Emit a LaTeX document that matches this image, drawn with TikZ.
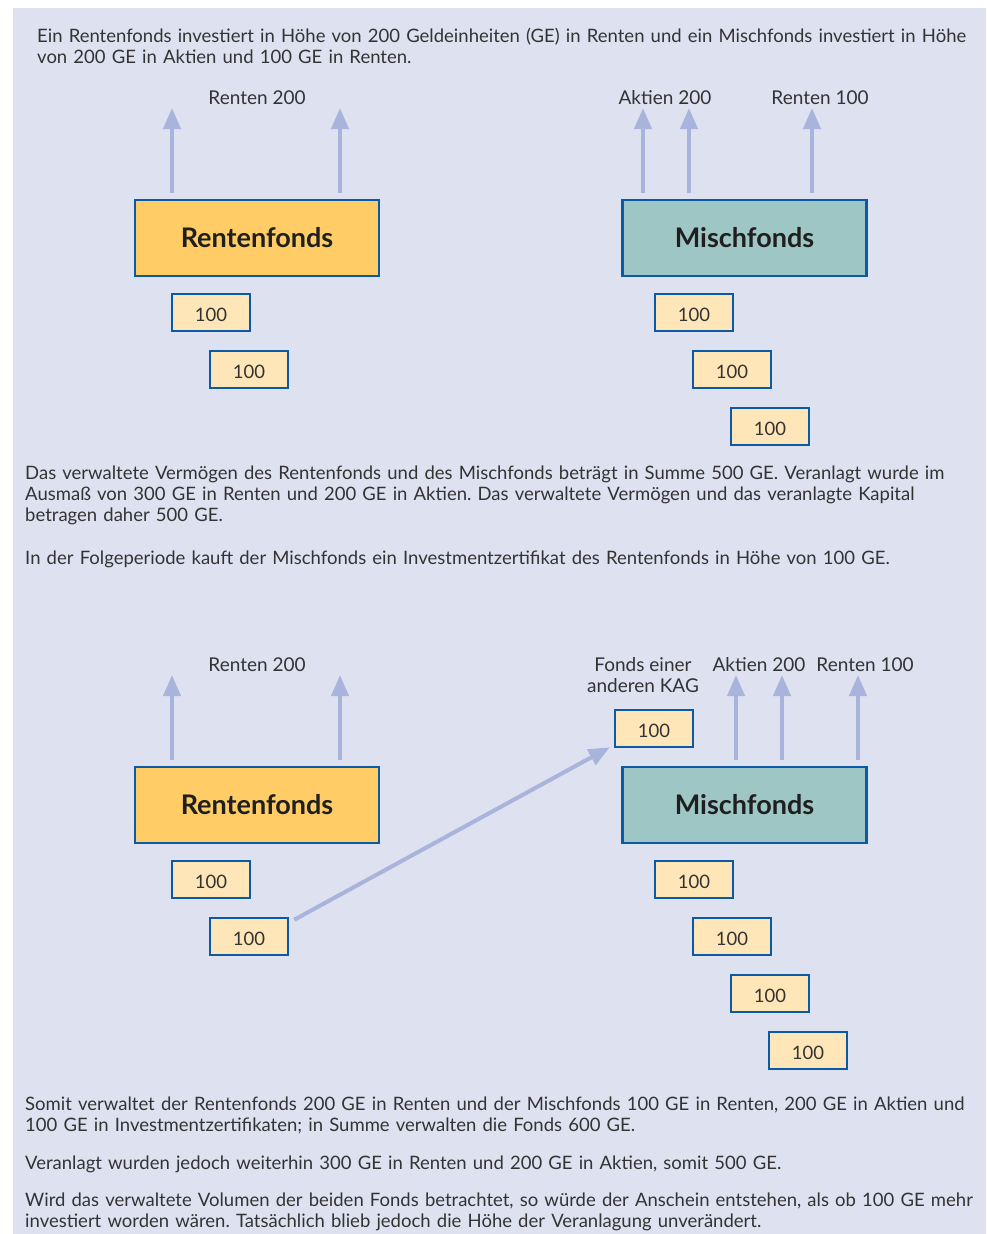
\documentclass[tikz,border=0pt]{standalone}
\usepackage{fontspec}
\setmainfont{Lato}
\usetikzlibrary{arrows.meta}
\definecolor{bg}{HTML}{DEE1F0}
\definecolor{bordblue}{HTML}{0A5AA5}
\definecolor{rentfill}{HTML}{FFCC66}
\definecolor{mischfill}{HTML}{9EC6C4}
\definecolor{smallfill}{HTML}{FFE6B8}
\definecolor{arrcol}{HTML}{A8B4DC}
\definecolor{txt}{HTML}{333333}
\frenchspacing
\begin{document}
\begin{tikzpicture}[x=1pt,y=-1pt,
  fondsbox/.style={draw=bordblue,line width=2.5pt,minimum width=244pt,minimum height=76pt,inner sep=0pt,font=\fontsize{27}{30}\selectfont\bfseries,text=black!88},
  rent/.style={fondsbox,fill=rentfill},
  misch/.style={fondsbox,fill=mischfill},
  small/.style={draw=bordblue,line width=2.5pt,fill=smallfill,minimum width=78pt,minimum height=37pt,inner sep=0pt,text height=17pt,text depth=0pt,font=\fontsize{18.5}{20}\selectfont,text=txt},
  lab/.style={font=\fontsize{19}{21}\selectfont,text=txt,align=center,inner sep=0pt},
  para/.style={font=\fontsize{18.5}{21}\selectfont,text=txt,align=left,anchor=north west,inner sep=0pt,text width=960pt},
  arr/.style={draw=arrcol,line width=4pt,-{Triangle[width=17pt,length=21pt]}}
]
\useasboundingbox (0,0) rectangle (986,1234);
\fill[white] (0,0) rectangle (986,1234);
\fill[bg] (13,8) rectangle (986,1234);

% top text
\node[para] (t1) at (37,28) {Ein Rentenfonds investiert in Höhe von 200 Geldeinheiten (GE) in Renten und ein Mischfonds investiert in Höhe\\von 200 GE in Aktien und 100 GE in Renten.};

% ---------- upper diagram ----------
\node[rent] (rf1) at (257,238) {Rentenfonds};
\node[misch] (mf1) at (744.5,238) {Mischfonds};
\node[small] (a1) at (211,312.5) {100};
\node[small] (a2) at (249,369.5) {100};
\node[small] (b1) at (694,312.5) {100};
\node[small] (b2) at (732,369.5) {100};
\node[small] (b3) at (770,426.5) {100};

\node[lab] (l1) at (257,98) {Renten 200};
\node[lab] (l2) at (665,98) {Aktien 200};
\node[lab] (l3) at (820,98) {Renten 100};

\coordinate (s1) at (172,193); \coordinate (e1) at (172,108);
\coordinate (s2) at (340,193); \coordinate (e2) at (340,108);
\coordinate (s3) at (643,193); \coordinate (e3) at (643,108);
\coordinate (s4) at (689,193); \coordinate (e4) at (689,108);
\coordinate (s5) at (812,193); \coordinate (e5) at (812,108);
\foreach \i in {1,...,5} {\draw[arr] (s\i) -- (e\i);}

% middle text
\node[para] (t2) at (25,466) {Das verwaltete Vermögen des Rentenfonds und des Mischfonds beträgt in Summe 500 GE. Veranlagt wurde im\\Ausmaß von 300 GE in Renten und 200 GE in Aktien. Das verwaltete Vermögen und das veranlagte Kapital\\betragen daher 500 GE.};
\node[para] (t3) at (25,551) {In der Folgeperiode kauft der Mischfonds ein Investmentzertifikat des Rentenfonds in Höhe von 100 GE.};

% ---------- lower diagram ----------
\node[rent] (rf2) at (257,805) {Rentenfonds};
\node[misch] (mf2) at (744.5,805) {Mischfonds};
\node[small] (c1) at (211,879.5) {100};
\node[small] (c2) at (249,936.5) {100};
\node[small] (d1) at (694,879.5) {100};
\node[small] (d2) at (732,936.5) {100};
\node[small] (d3) at (770,993.5) {100};
\node[small] (d4) at (808,1050.5) {100};
\node[small] (k) at (654,728.5) {100};

\node[lab] (m1) at (257,665) {Renten 200};
\node[lab] (m2) at (643,675.5) {Fonds einer\\anderen KAG};
\node[lab] (m3) at (759,665) {Aktien 200};
\node[lab] (m4) at (865,665) {Renten 100};

\coordinate (u1) at (172,760); \coordinate (v1) at (172,675);
\coordinate (u2) at (340,760); \coordinate (v2) at (340,675);
\coordinate (u3) at (736,760); \coordinate (v3) at (736,675);
\coordinate (u4) at (782,760); \coordinate (v4) at (782,675);
\coordinate (u5) at (858,760); \coordinate (v5) at (858,675);
\foreach \i in {1,...,5} {\draw[arr] (u\i) -- (v\i);}

\draw[arr] ([xshift=5pt,yshift=-3pt]c2.north east) -- ([xshift=-4pt,yshift=1pt]k.south west);

% bottom text
\node[para] (t4) at (25,1097) {Somit verwaltet der Rentenfonds 200 GE in Renten und der Mischfonds 100 GE in Renten, 200 GE in Aktien und\\100 GE in Investmentzertifikaten; in Summe verwalten die Fonds 600 GE.};
\node[para] (t5) at (25,1156) {Veranlagt wurden jedoch weiterhin 300 GE in Renten und 200 GE in Aktien, somit 500 GE.};
\node[para] (t6) at (25,1193) {Wird das verwaltete Volumen der beiden Fonds betrachtet, so würde der Anschein entstehen, als ob 100 GE mehr\\investiert worden wären. Tatsächlich blieb jedoch die Höhe der Veranlagung unverändert.};
\end{tikzpicture}
\end{document}
